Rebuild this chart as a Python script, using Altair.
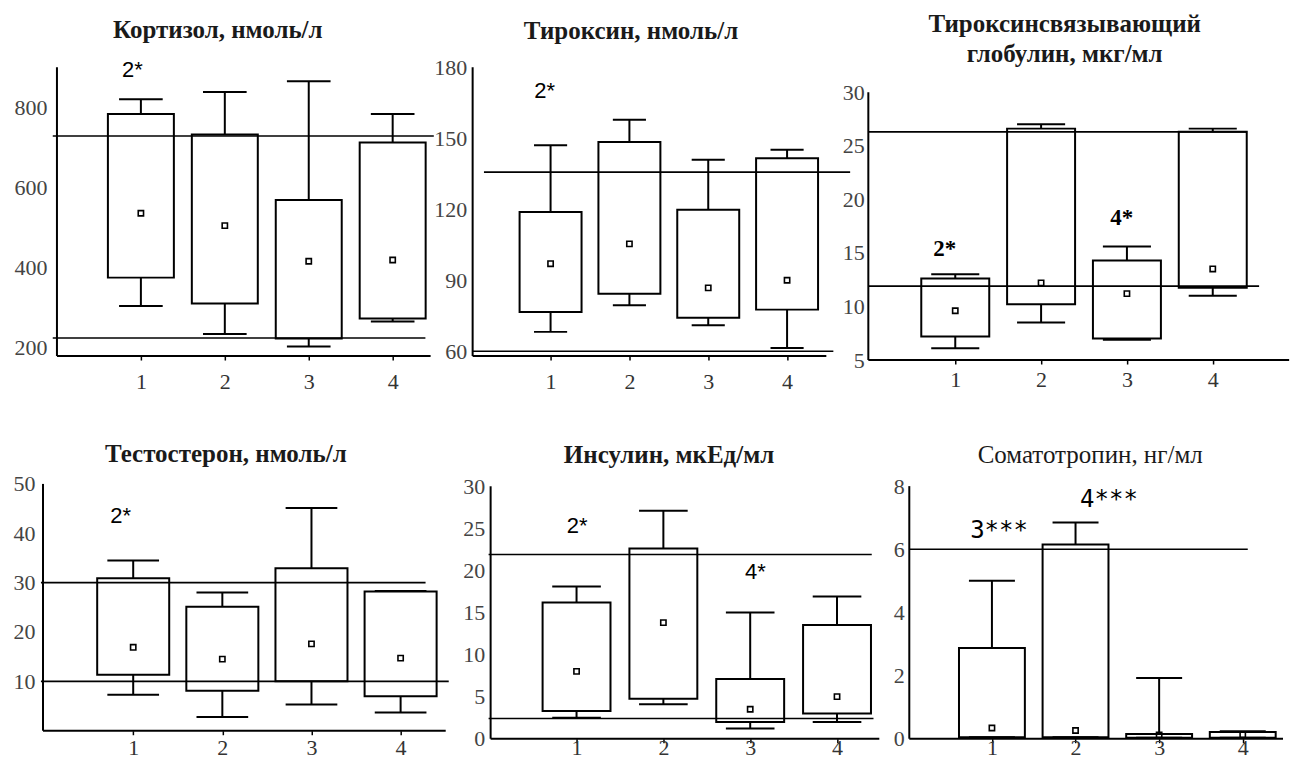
import altair as alt
import pandas as pd

SERIF = "Liberation Serif"
SANS = "Liberation Sans"
MONO = "DejaVu Sans Mono"
INK = "#000000"

groups = [1, 2, 3, 4]

# Кортизол, нмоль/л
cortisol_low = [303, 233, 202, 264]
cortisol_q1 = [374, 309, 222, 272]
cortisol_q3 = [783, 732, 568, 712]
cortisol_high = [820, 838, 865, 783]
cortisol_mean = [535, 504, 415, 418]
cortisol_norm = [223, 728]

# Тироксин, нмоль/л
thyroxine_low = [68.2, 79.4, 71.0, 61.4]
thyroxine_q1 = [76.6, 84.3, 74.2, 77.6]
thyroxine_q3 = [118.8, 148.4, 119.8, 141.6]
thyroxine_high = [147.0, 157.8, 140.9, 145.1]
thyroxine_mean = [97.0, 105.4, 86.8, 90.0]
thyroxine_norm = [60, 135.7]

# Тироксинсвязывающий глобулин, мкг/мл
tbg_low = [6.1, 8.5, 6.9, 11.0]
tbg_q1 = [7.2, 10.2, 7.0, 11.75]
tbg_q3 = [12.6, 26.6, 14.3, 26.3]
tbg_high = [13.0, 27.0, 15.6, 26.6]
tbg_mean = [9.6, 12.2, 11.2, 13.5]
tbg_norm = [11.9, 26.3]

# Тестостерон, нмоль/л
testo_low = [7.3, 2.8, 5.3, 3.7]
testo_q1 = [11.35, 8.1, 10.0, 7.0]
testo_q3 = [30.9, 25.1, 32.9, 28.2]
testo_high = [34.5, 28.0, 45.1, 28.3]
testo_mean = [16.9, 14.5, 17.6, 14.7]
testo_norm = [10, 30]

# Инсулин, мкЕд/мл
insulin_low = [2.5, 4.1, 1.2, 2.0]
insulin_q1 = [3.3, 4.75, 2.0, 3.0]
insulin_q3 = [16.2, 22.6, 7.1, 13.5]
insulin_high = [18.1, 27.1, 15.0, 16.9]
insulin_mean = [8.0, 13.8, 3.5, 5.0]
insulin_norm = [2.4, 21.9]

# Соматотропин, нг/мл
gh_low = [0.05, 0.05, 0.03, 0.03]
gh_q1 = [0.05, 0.05, 0.03, 0.03]
gh_q3 = [2.87, 6.15, 0.15, 0.21]
gh_high = [5.0, 6.85, 1.92, 0.24]
gh_mean = [0.34, 0.26, 0.12, 0.12]
gh_norm = [6.0]

# significance marks
cortisol_notes = ["2*"]
thyroxine_notes = ["2*"]
tbg_notes = ["2*", "4*"]
testo_notes = ["2*"]
insulin_notes = ["2*", "4*"]
gh_notes = ["3***", "4***"]


def panel(title, low, q1, q3, high, mean, norms, notes, lay):
    hw, cw = lay["box"], lay["cap"]
    x_axis = alt.Axis(values=groups, format="d", title=None, grid=False,
                      domain=False, ticks=True, tickSize=4, tickWidth=1.5,
                      tickColor=INK, labelFont=SERIF, labelFontSize=22,
                      labelColor="#333333", labelPadding=lay["xpad"],
                      labelFlush=False)
    y_axis = alt.Axis(values=lay["yticks"], title=None, grid=False,
                      domain=False, ticks=False, labelFont=SERIF,
                      labelFontSize=22, labelColor="#444444",
                      labelPadding=lay["ypad"], labelFlush=False,
                      labelOverlap=False, offset=lay.get("yoff", 0))
    xs = alt.Scale(domain=lay["xdom"], nice=False, zero=False)
    ys = alt.Scale(domain=lay["ydom"], nice=False, zero=False)

    def X(field):
        return alt.X(field, type="quantitative", scale=xs, axis=x_axis)

    def Y(field):
        return alt.Y(field, type="quantitative", scale=ys, axis=y_axis)

    boxes = pd.DataFrame({"g": groups, "low": low, "q1": q1, "q3": q3,
                          "high": high, "mean": mean})
    base = alt.Chart(boxes).transform_calculate(
        xl=f"datum.g - {hw}", xr=f"datum.g + {hw}",
        cl=f"datum.g - {cw}", cr=f"datum.g + {cw}",
    )

    rect = base.mark_rect(fillOpacity=0, stroke=INK, strokeWidth=2,
                          clip=False).encode(
        x=X("xl"), x2="xr:Q", y=Y("q1"), y2="q3:Q")
    whisk_hi = base.mark_rule(color=INK, strokeWidth=2, clip=False).encode(
        x=X("g"), y=Y("q3"), y2="high:Q")
    whisk_lo = base.mark_rule(color=INK, strokeWidth=2, clip=False).encode(
        x=X("g"), y=Y("low"), y2="q1:Q")
    cap_hi = base.mark_rule(color=INK, strokeWidth=2, clip=False).encode(
        x=X("cl"), x2="cr:Q", y=Y("high"))
    cap_lo = base.mark_rule(color=INK, strokeWidth=2, clip=False).encode(
        x=X("cl"), x2="cr:Q", y=Y("low"))
    means = base.mark_point(shape="square", size=28, filled=False,
                            color=INK, strokeWidth=1.6, opacity=1,
                            clip=False).encode(x=X("g"), y=Y("mean"))

    ref_df = pd.DataFrame({"v": norms, "x0": lay["ref_x0"],
                           "x1": lay["ref_x1"]})
    refs = alt.Chart(ref_df).mark_rule(color=INK, strokeWidth=1.6,
                                       clip=False).encode(
        x=X("x0"), x2="x1:Q", y=Y("v"))

    # axis lines (drawn as rules so they can start/end off the cell edge)
    fx0, fx1, fy0, fy1 = lay["frame"]
    frame_df = pd.DataFrame({"x0": [fx0], "x1": [fx1], "y0": [fy0], "y1": [fy1]})
    frame_h = alt.Chart(frame_df).mark_rule(color=INK, strokeWidth=2,
                                            clip=False).encode(
        x=X("x0"), x2="x1:Q", y=Y("y0"))
    frame_v = alt.Chart(frame_df).mark_rule(color=INK, strokeWidth=2,
                                            clip=False).encode(
        x=X("x0"), y=Y("y0"), y2="y1:Q")

    nx, ny = lay["note_xy"]
    note_df = pd.DataFrame({"t": notes, "x": nx, "y": ny})
    note_style = lay.get("note_style", {"font": SANS, "fontWeight": "normal",
                                        "fontSize": 22})
    note_layer = alt.Chart(note_df).mark_text(
        color=INK, align="center", baseline="middle",
        clip=False, **note_style).encode(x=X("x"), y=Y("y"), text="t:N")

    head = alt.TitleParams(
        text=title, font=SERIF, fontSize=25,
        fontWeight=lay.get("tweight", "bold"), color="#1a1a1a",
        anchor="middle", frame="group", baseline="alphabetic",
        dx=lay["tdx"], dy=lay["tdy"], offset=0, lineHeight=30,
    )

    return alt.layer(refs, rect, whisk_hi, whisk_lo, cap_hi, cap_lo,
                     means, frame_h, frame_v, note_layer).properties(
        width=lay["w"], height=lay["h"], title=head)


p1 = panel("Кортизол, нмоль/л", cortisol_low, cortisol_q1, cortisol_q3,
           cortisol_high, cortisol_mean, cortisol_norm, cortisol_notes, dict(
               w=392, h=289, xdom=[0, 4.667], ydom=[178, 900],
               yticks=[200, 400, 600, 800], box=0.393, cap=0.26,
               frame=(0, 4.452, 178, 900), xpad=12, ypad=10,
               ref_x0=[-0.05, -0.05], ref_x1=[4.39, 4.49],
               note_xy=([0.90], [893.75]), tdx=-35, tdy=4))

p2 = panel("Тироксин, нмоль/л", thyroxine_low, thyroxine_q1, thyroxine_q3,
           thyroxine_high, thyroxine_mean, thyroxine_norm, thyroxine_notes, dict(
               w=377, h=289, xdom=[0.2395, 5.018], ydom=[58, 180],
               yticks=[60, 90, 120, 150, 180], box=0.393, cap=0.21,
               frame=(0.0114, 4.498, 58, 180), yoff=18, xpad=12, ypad=6,
               ref_x0=[0.0114, 0.155], ref_x1=[4.587, 4.80],
               note_xy=([0.926], [170.1]), tdx=-48, tdy=8))

p3 = panel(["Тироксинсвязывающий", "глобулин, мкг/мл"], tbg_low, tbg_q1,
           tbg_q3, tbg_high, tbg_mean, tbg_norm, tbg_notes, dict(
               w=381, h=293, xdom=[0.4645, 4.900], ydom=[5, 32.33],
               yticks=[5, 10, 15, 20, 25, 30], box=0.396, cap=0.28,
               frame=(-0.0128, 4.89, 5, 30), yoff=41, xpad=6, ypad=4,
               ref_x0=[-0.0128, -0.0128], ref_x1=[4.54, 4.40],
               note_xy=([0.878, 2.94], [15.33, 18.28]),
               note_style={"font": SERIF, "fontWeight": "bold",
                           "fontSize": 23},
               tdx=-35, tdy=20))

p4 = panel("Тестостерон, нмоль/л", testo_low, testo_q1, testo_q3,
           testo_high, testo_mean, testo_norm, testo_notes, dict(
               w=392, h=247, xdom=[0.1446, 4.539], ydom=[0, 50],
               yticks=[10, 20, 30, 40, 50], box=0.404, cap=0.29,
               frame=(-0.012, 4.506, 0, 50), yoff=14, xpad=3, ypad=8,
               ref_x0=[-0.035, -0.035], ref_x1=[4.54, 4.28],
               note_xy=([0.859], [43.4]), tdx=-27, tdy=14))

p5 = panel("Инсулин, мкЕд/мл", insulin_low, insulin_q1, insulin_q3,
           insulin_high, insulin_mean, insulin_norm, insulin_notes, dict(
               w=377, h=255, xdom=[0.0104, 4.349], ydom=[0, 30.28],
               yticks=[0, 5, 10, 15, 20, 25, 30], box=0.391, cap=0.28,
               frame=(0.0104, 4.487, 0, 30), xpad=-5, ypad=6,
               ref_x0=[-0.013, -0.013], ref_x1=[4.42, 4.40],
               note_xy=([1.008, 3.06], [25.33, 19.8]), tdx=-10, tdy=13))

p6 = panel("Соматотропин, нг/мл", gh_low, gh_q1, gh_q3, gh_high, gh_mean,
           gh_norm, gh_notes, dict(
               w=374, h=255, xdom=[0.0116, 4.4816], ydom=[0, 8.07],
               yticks=[0, 2, 4, 6, 8], box=0.394, cap=0.275,
               frame=(0.0116, 4.4816, 0, 8), xpad=-5, ypad=5,
               ref_x0=[0.0116], ref_x1=[4.06],
               note_xy=([1.085, 2.40], [6.57, 7.57]),
               note_style={"font": MONO, "fontWeight": "normal",
                           "fontSize": 24},
               tweight="normal", tdx=-6, tdy=13))

chart = alt.concat(
    p1, p2, p3, p4, p5, p6, columns=3,
    spacing=alt.RowColnumber(row=124, column=42),
    bounds="flush", align="each",
).properties(
    padding={"left": 13, "top": 12, "right": 0, "bottom": 0},
    background="white",
).configure_view(stroke=None).configure_axis(grid=False)

chart.save("out.html", embed_options={"renderer": "svg", "actions": False})
